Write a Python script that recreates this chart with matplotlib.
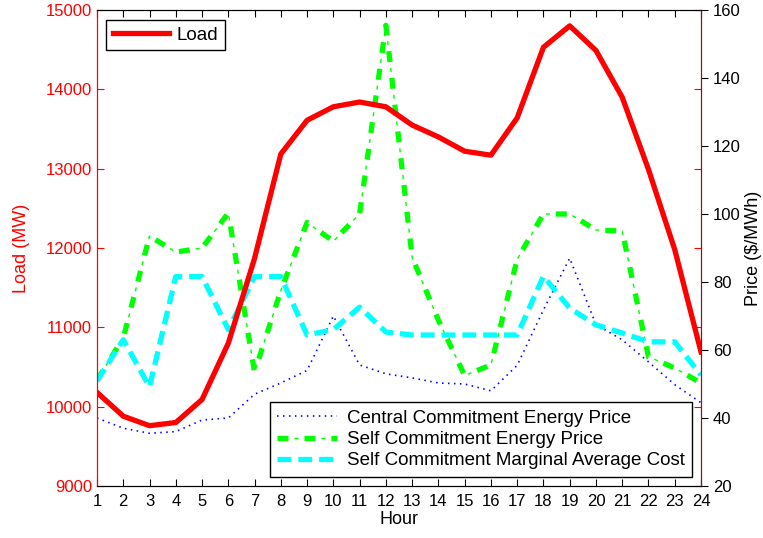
import matplotlib
matplotlib.use("Agg")
import matplotlib.pyplot as plt
import numpy as np

plt.rcParams['font.family'] = ['Liberation Sans', 'DejaVu Sans']
plt.rcParams['lines.scale_dashes'] = False  # dash lengths in points

# hourly data
hours = list(range(1, 25))
load_mw = [10180, 9880, 9760, 9800, 10090, 10800, 11870, 13185, 13610, 13780,
           13840, 13780, 13550, 13400, 13220, 13170, 13640, 14530, 14800, 14490,
           13900, 12990, 11980, 10690]
central_price = [40, 37, 35.5, 36, 39.4, 40, 47, 50.3, 54, 70,
                 55.6, 53, 51.8, 50.3, 50, 48, 55.5, 71.8, 87, 67.5,
                 63, 56.5, 49.8, 44.5]
self_price = [51.2, 63.5, 93.5, 88.8, 90, 100.3, 53.5, 77.5, 97.5, 92,
              100, 155.5, 87.2, 68.8, 52.5, 55.6, 86.7, 100, 100, 95.3,
              95, 58, 54.7, 50.3]
self_mac = [50.9, 63, 49.2, 81.6, 81.6, 66, 81.6, 81.6, 64.4, 66,
            72.6, 65.3, 64.4, 64.4, 64.4, 64.4, 64.4, 81.7, 72.3, 67.4,
            65, 62.4, 62.4, 52.6]

fig = plt.figure(figsize=(7.63, 5.38), dpi=100)
ax1 = fig.add_axes([97/763, (538-486)/538, (701-97)/763, (486-10)/538])
ax2 = ax1.twinx()

# price lines on the right axis
l_cen, = ax2.plot(hours, central_price, color='blue', linestyle=(0, (1.1, 3.2)),
                  linewidth=1.2)
# matlab style dash-dot: thick dash + thin dot
l_self_a, = ax2.plot(hours, self_price, color='#00ff00', linestyle=(0, (7.9, 11.5)),
                     linewidth=3.8)
l_self_b, = ax2.plot(hours, self_price, color='#00ff00', linestyle=(7.2, (2.9, 16.5)),
                     linewidth=1.0)
l_mac, = ax2.plot(hours, self_mac, color='cyan', linestyle=(0, (10, 5)),
                  linewidth=3.8)

# load on the left axis, drawn on top
ax1.set_zorder(ax2.get_zorder() + 1)
ax1.patch.set_visible(False)
l_load, = ax1.plot(hours, load_mw, color='red', linewidth=3.8)

ax1.set_xlim(1, 24)
ax1.set_xticks(hours)
ax1.set_ylim(9000, 15000)
ax1.set_yticks(range(9000, 15001, 1000))
ax2.set_ylim(20, 160)
ax2.set_yticks(range(20, 161, 20))

fs = 12
ax1.tick_params(axis='x', direction='in', top=True, labelsize=fs, colors='black',
                length=5, pad=6)
ax1.tick_params(axis='y', direction='in', left=True, right=True, colors='red',
                labelsize=fs, length=5)
ax2.tick_params(axis='y', direction='out', colors='black', labelsize=fs, length=5)
ax2.tick_params(axis='x', top=False, bottom=False)

ax1.set_xlabel('Hour', fontsize=13, labelpad=1)
ax1.set_ylabel('Load (MW)', color='red', fontsize=13, labelpad=11)
ax2.set_ylabel('Price ($/MWh)', color='black', fontsize=13, labelpad=3)

# axes frame colours like the plotyy output
ax1.spines['left'].set_color('red')
ax2.spines['left'].set_color('red')
ax2.spines['right'].set_color('#7a1a1a')
ax1.spines['right'].set_color('#7a1a1a')
for ax in (ax1, ax2):
    ax.spines['top'].set_color('black')
    ax.spines['bottom'].set_color('black')

leg1 = ax1.legend([l_load], ['Load'], loc='upper left', fontsize=13.5,
                  fancybox=False, edgecolor='black', framealpha=1,
                  handlelength=3.0, handletextpad=0.4, borderaxespad=0,
                  borderpad=0.35, bbox_to_anchor=(0.015, 0.979))
leg1.get_frame().set_linewidth(1.0)

leg2 = ax1.legend([l_cen, (l_self_a, l_self_b), l_mac],
                  ['Central Commitment Energy Price',
                   'Self Commitment Energy Price',
                   'Self Commitment Marginal Average Cost'],
                  loc='lower right', fontsize=13.5,
                  fancybox=False, edgecolor='black', framealpha=1,
                  handlelength=3.2, handletextpad=0.5, borderaxespad=0,
                  borderpad=0.4, labelspacing=0.22,
                  bbox_to_anchor=(0.985, 0.019))
leg2.get_frame().set_linewidth(1.0)
ax1.add_artist(leg1)

plt.savefig('out.png', dpi=100)
